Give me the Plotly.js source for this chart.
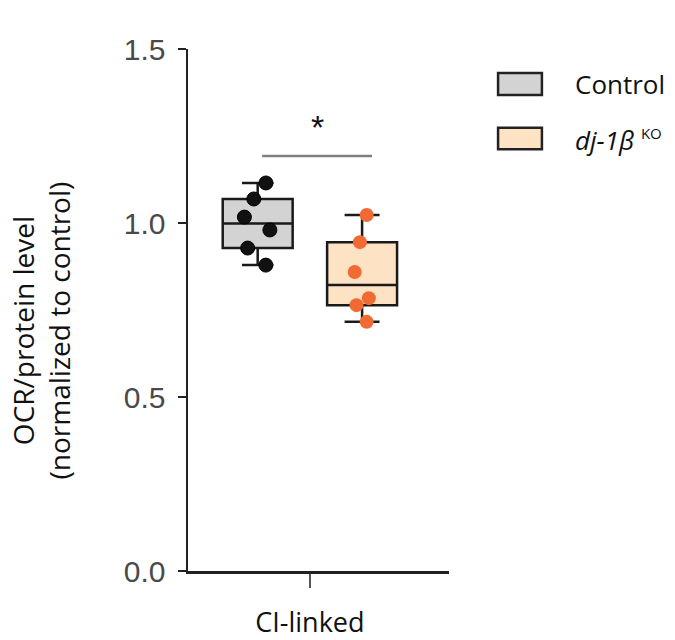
<!DOCTYPE html>
<html>
<head>
<meta charset="utf-8">
<script src="https://cdn.plot.ly/plotly-3.0.1.min.js"></script>
<style>html,body{margin:0;padding:0;background:#fff;}#chart{width:675px;height:640px;}</style>
</head>
<body>
<div id="chart"></div>
<script>
// ---- data ----
var category = 'CI-linked';
var groupNames = ['Control', 'dj-1β'];
var controlValues = [1.115, 1.069, 1.017, 0.980, 0.928, 0.879];
var koValues = [1.023, 0.945, 0.859, 0.784, 0.764, 0.716];
var yTickVals = [0.0, 0.5, 1.0, 1.5];
var yTickText = ['0.0', '0.5', '1.0', '1.5'];
var yTitle = 'OCR/protein level<br>(normalized to control)';
var sigLabel = '*';

function rep(v, n) { var a = []; for (var i = 0; i < n; i++) a.push(v); return a; }

var traces = [
  {
    type: 'box', name: groupNames[0], x: rep(category, controlValues.length), y: controlValues,
    boxpoints: 'all', jitter: 0.45, pointpos: 0, whiskerwidth: 0.45,
    fillcolor: '#d3d3d3', line: {color: '#1a1a1a', width: 2.5},
    marker: {color: '#111111', size: 14, line: {color: '#000', width: 1}},
    showlegend: false, hoverinfo: 'y'
  },
  {
    type: 'box', name: groupNames[1], x: rep(category, koValues.length), y: koValues,
    boxpoints: 'all', jitter: 0.25, pointpos: 0, whiskerwidth: 0.5,
    fillcolor: '#fde2c4', line: {color: '#1a1a1a', width: 2.5},
    marker: {color: '#f26a33', size: 14},
    showlegend: false, hoverinfo: 'y'
  }
];

var layout = {
  width: 675, height: 640,
  margin: {l: 188, r: 226, t: 49, b: 69},
  paper_bgcolor: '#fff', plot_bgcolor: '#fff',
  boxmode: 'group', boxgap: 0.2, boxgroupgap: 0.33,
  showlegend: false,
  font: {family: 'Liberation Sans, Arial, sans-serif', color: '#222'},
  xaxis: {
    type: 'category', range: [-0.467, 0.533],
    showline: true, linecolor: '#222', linewidth: 2.5,
    ticks: 'outside', ticklen: 14, tickwidth: 2.5, tickcolor: '#555',
    ticklabelstandoff: 12,
    showgrid: false, zeroline: false,
    tickfont: {family: 'Open Sans, Liberation Sans, sans-serif', size: 27, color: '#111'},
    fixedrange: true
  },
  yaxis: {
    range: [0, 1.5], tickvals: yTickVals, ticktext: yTickText,
    showline: true, linecolor: '#222', linewidth: 2.5,
    ticks: 'outside', ticklen: 8, tickwidth: 2.5, tickcolor: '#222',
    ticklabelstandoff: 6,
    showgrid: false, zeroline: false,
    tickfont: {family: 'Liberation Sans, Arial, sans-serif', size: 30, color: '#4a4a4a'},
    fixedrange: true
  },
  shapes: [
    // significance bar
    {type: 'line', xref: 'paper', yref: 'paper', x0: 0.284, x1: 0.705, y0: 0.795, y1: 0.795,
     line: {color: '#808080', width: 2.5}},
    // legend boxes
    {type: 'rect', xref: 'paper', yref: 'paper', x0: 1.188, x1: 1.356, y0: 0.912, y1: 0.954,
     fillcolor: '#d3d3d3', line: {color: '#222', width: 2.5}},
    {type: 'rect', xref: 'paper', yref: 'paper', x0: 1.188, x1: 1.356, y0: 0.808, y1: 0.849,
     fillcolor: '#fde2c4', line: {color: '#222', width: 2.5}}
  ],
  annotations: [
    {xref: 'paper', yref: 'paper', x: 0.498, y: 0.85, text: sigLabel, showarrow: false,
     font: {size: 34, color: '#111', family: 'Liberation Sans, Arial, sans-serif'}, xanchor: 'center', yanchor: 'middle'},
    {xref: 'paper', yref: 'paper', x: 1.475, y: 0.933, text: groupNames[0], showarrow: false,
     xanchor: 'left', yanchor: 'middle',
     font: {size: 26, color: '#111', family: 'Open Sans, Liberation Sans, sans-serif'}},
    {xref: 'paper', yref: 'paper', x: 1.475, y: 0.826, text: '<i>' + groupNames[1] + '</i> <sup><span style="font-size:15px">KO</span></sup>', showarrow: false,
     xanchor: 'left', yanchor: 'middle',
     font: {size: 26, color: '#111', family: 'Open Sans, Liberation Sans, sans-serif'}},
    {xref: 'paper', yref: 'paper', x: -0.565, y: 0.46, text: yTitle, showarrow: false,
     textangle: -90, xanchor: 'center', yanchor: 'middle',
     font: {size: 28, color: '#111', family: 'Open Sans, Liberation Sans, sans-serif'}}
  ]
};

Plotly.newPlot('chart', traces, layout, {displayModeBar: false, staticPlot: true});
</script>
</body>
</html>
